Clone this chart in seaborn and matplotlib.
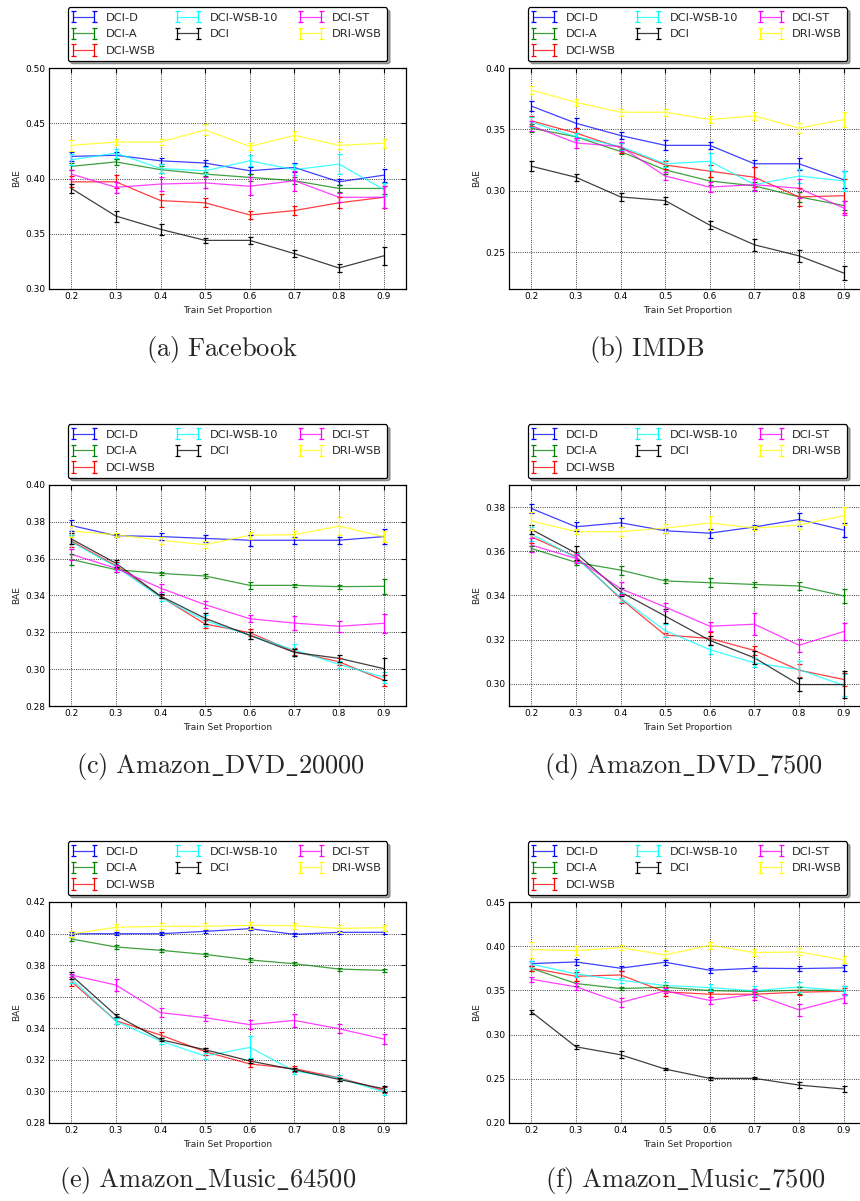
import numpy as np
import pandas as pd
import matplotlib
matplotlib.use('Agg')
import matplotlib.pyplot as plt
import seaborn as sns
from matplotlib.lines import Line2D
from matplotlib.container import ErrorbarContainer
from matplotlib.legend_handler import HandlerErrorbar
from matplotlib.ticker import FormatStrFormatter

props = [0.2, 0.3, 0.4, 0.5, 0.6, 0.7, 0.8, 0.9]
methods = ['DCI-D', 'DCI-A', 'DCI-WSB', 'DCI-WSB-10', 'DCI', 'DCI-ST', 'DRI-WSB']
colors = ['#0000ff', '#008000', '#ff0000', '#00ffff', '#000000', '#ff00ff', '#ffff00']

# rows follow the order of `methods`
facebook_bae = [
    [0.420, 0.421, 0.416, 0.414, 0.407, 0.410, 0.397, 0.403],
    [0.411, 0.415, 0.408, 0.404, 0.401, 0.398, 0.391, 0.391],
    [0.397, 0.397, 0.380, 0.378, 0.367, 0.371, 0.378, 0.383],
    [0.417, 0.423, 0.409, 0.407, 0.416, 0.408, 0.413, 0.390],
    [0.391, 0.366, 0.354, 0.344, 0.344, 0.332, 0.319, 0.330],
    [0.404, 0.392, 0.395, 0.396, 0.393, 0.398, 0.383, 0.383],
    [0.430, 0.433, 0.433, 0.444, 0.429, 0.439, 0.430, 0.432],
]
facebook_err = [
    [0.004, 0.003, 0.003, 0.003, 0.003, 0.004, 0.003, 0.006],
    [0.003, 0.003, 0.003, 0.002, 0.003, 0.003, 0.003, 0.005],
    [0.005, 0.006, 0.006, 0.004, 0.004, 0.004, 0.005, 0.010],
    [0.005, 0.004, 0.004, 0.003, 0.005, 0.005, 0.009, 0.006],
    [0.004, 0.005, 0.005, 0.002, 0.003, 0.003, 0.004, 0.008],
    [0.004, 0.005, 0.006, 0.005, 0.008, 0.009, 0.004, 0.010],
    [0.005, 0.003, 0.003, 0.005, 0.003, 0.004, 0.003, 0.004],
]

imdb_bae = [
    [0.369, 0.355, 0.345, 0.337, 0.337, 0.322, 0.322, 0.309],
    [0.351, 0.344, 0.332, 0.317, 0.308, 0.304, 0.295, 0.288],
    [0.357, 0.347, 0.335, 0.321, 0.316, 0.311, 0.295, 0.296],
    [0.356, 0.344, 0.336, 0.322, 0.324, 0.305, 0.312, 0.308],
    [0.320, 0.311, 0.295, 0.292, 0.272, 0.256, 0.247, 0.233],
    [0.353, 0.339, 0.336, 0.312, 0.303, 0.305, 0.302, 0.286],
    [0.382, 0.372, 0.364, 0.364, 0.358, 0.361, 0.351, 0.358],
]
imdb_err = [
    [0.004, 0.004, 0.003, 0.004, 0.003, 0.003, 0.005, 0.007],
    [0.003, 0.003, 0.002, 0.003, 0.003, 0.003, 0.004, 0.004],
    [0.004, 0.004, 0.004, 0.003, 0.005, 0.008, 0.007, 0.014],
    [0.004, 0.003, 0.003, 0.003, 0.007, 0.005, 0.006, 0.008],
    [0.004, 0.003, 0.003, 0.003, 0.003, 0.005, 0.005, 0.006],
    [0.004, 0.004, 0.004, 0.003, 0.004, 0.005, 0.008, 0.006],
    [0.003, 0.003, 0.003, 0.003, 0.003, 0.003, 0.004, 0.006],
]

dvd20000_bae = [
    [0.3780, 0.3725, 0.3720, 0.3710, 0.3700, 0.3700, 0.3700, 0.3720],
    [0.3596, 0.3540, 0.3520, 0.3506, 0.3455, 0.3455, 0.3448, 0.3450],
    [0.3696, 0.3562, 0.3394, 0.3245, 0.3198, 0.3095, 0.3040, 0.2940],
    [0.3690, 0.3557, 0.3390, 0.3263, 0.3184, 0.3104, 0.3026, 0.2956],
    [0.3707, 0.3575, 0.3397, 0.3276, 0.3184, 0.3091, 0.3059, 0.3003],
    [0.3624, 0.3548, 0.3440, 0.3350, 0.3274, 0.3250, 0.3233, 0.3249],
    [0.3750, 0.3730, 0.3700, 0.3676, 0.3727, 0.3730, 0.3777, 0.3720],
]
dvd20000_err = [
    [0.003, 0.001, 0.002, 0.002, 0.003, 0.002, 0.002, 0.004],
    [0.003, 0.001, 0.001, 0.001, 0.002, 0.001, 0.001, 0.004],
    [0.003, 0.002, 0.001, 0.002, 0.002, 0.002, 0.002, 0.003],
    [0.004, 0.002, 0.002, 0.003, 0.002, 0.003, 0.002, 0.003],
    [0.003, 0.002, 0.001, 0.003, 0.002, 0.002, 0.002, 0.006],
    [0.003, 0.002, 0.002, 0.002, 0.002, 0.004, 0.003, 0.005],
    [0.003, 0.001, 0.002, 0.002, 0.002, 0.002, 0.005, 0.003],
]

dvd7500_bae = [
    [0.3794, 0.3711, 0.3729, 0.3693, 0.3682, 0.3710, 0.3744, 0.3696],
    [0.3613, 0.3550, 0.3515, 0.3466, 0.3458, 0.3450, 0.3443, 0.3398],
    [0.3666, 0.3576, 0.3386, 0.3221, 0.3206, 0.3151, 0.3062, 0.3020],
    [0.3678, 0.3571, 0.3390, 0.3241, 0.3155, 0.3095, 0.3065, 0.2993],
    [0.3699, 0.3592, 0.3416, 0.3307, 0.3197, 0.3118, 0.2997, 0.2997],
    [0.3628, 0.3568, 0.3431, 0.3348, 0.3261, 0.3270, 0.3175, 0.3237],
    [0.3737, 0.3689, 0.3689, 0.3705, 0.3728, 0.3705, 0.3719, 0.3761],
]
dvd7500_err = [
    [0.002, 0.002, 0.002, 0.001, 0.002, 0.001, 0.003, 0.003],
    [0.001, 0.001, 0.002, 0.001, 0.002, 0.001, 0.002, 0.003],
    [0.003, 0.002, 0.002, 0.001, 0.003, 0.002, 0.003, 0.003],
    [0.003, 0.002, 0.002, 0.003, 0.002, 0.002, 0.004, 0.005],
    [0.002, 0.003, 0.002, 0.003, 0.002, 0.003, 0.003, 0.006],
    [0.003, 0.002, 0.003, 0.002, 0.002, 0.005, 0.003, 0.004],
    [0.004, 0.001, 0.002, 0.002, 0.003, 0.001, 0.002, 0.004],
]

music64500_bae = [
    [0.3999, 0.3999, 0.3999, 0.4014, 0.4031, 0.3995, 0.4008, 0.4008],
    [0.3966, 0.3915, 0.3894, 0.3868, 0.3833, 0.3809, 0.3775, 0.3767],
    [0.3697, 0.3448, 0.3357, 0.3252, 0.3174, 0.3144, 0.3087, 0.3007],
    [0.3714, 0.3444, 0.3319, 0.3224, 0.3279, 0.3129, 0.3085, 0.2996],
    [0.3735, 0.3482, 0.3328, 0.3264, 0.3193, 0.3138, 0.3076, 0.3017],
    [0.3737, 0.3674, 0.3499, 0.3467, 0.3423, 0.3450, 0.3397, 0.3332],
    [0.3997, 0.4040, 0.4046, 0.4046, 0.4052, 0.4050, 0.4033, 0.4037],
]
music64500_err = [
    [0.001, 0.001, 0.001, 0.001, 0.001, 0.001, 0.001, 0.001],
    [0.001, 0.001, 0.001, 0.001, 0.001, 0.001, 0.001, 0.001],
    [0.003, 0.002, 0.002, 0.002, 0.002, 0.002, 0.002, 0.002],
    [0.003, 0.002, 0.002, 0.002, 0.007, 0.002, 0.002, 0.002],
    [0.002, 0.001, 0.001, 0.001, 0.001, 0.001, 0.001, 0.002],
    [0.001, 0.004, 0.003, 0.002, 0.003, 0.004, 0.003, 0.003],
    [0.002, 0.002, 0.002, 0.002, 0.002, 0.002, 0.002, 0.002],
]

music7500_bae = [
    [0.3803, 0.3822, 0.3751, 0.3819, 0.3728, 0.3751, 0.3747, 0.3755],
    [0.3750, 0.3578, 0.3521, 0.3536, 0.3498, 0.3487, 0.3502, 0.3500],
    [0.3751, 0.3660, 0.3675, 0.3483, 0.3457, 0.3457, 0.3480, 0.3490],
    [0.3796, 0.3687, 0.3615, 0.3555, 0.3532, 0.3495, 0.3540, 0.3495],
    [0.3258, 0.2862, 0.2772, 0.2610, 0.2505, 0.2505, 0.2429, 0.2384],
    [0.3627, 0.3540, 0.3363, 0.3495, 0.3386, 0.3457, 0.3280, 0.3412],
    [0.3962, 0.3950, 0.3984, 0.3901, 0.4011, 0.3928, 0.3935, 0.3845],
]
music7500_err = [
    [0.003, 0.003, 0.003, 0.003, 0.003, 0.003, 0.003, 0.003],
    [0.003, 0.003, 0.002, 0.003, 0.002, 0.003, 0.004, 0.005],
    [0.003, 0.005, 0.004, 0.005, 0.003, 0.003, 0.003, 0.004],
    [0.004, 0.004, 0.003, 0.004, 0.004, 0.006, 0.006, 0.005],
    [0.002, 0.002, 0.004, 0.001, 0.002, 0.001, 0.003, 0.003],
    [0.003, 0.004, 0.005, 0.003, 0.004, 0.006, 0.007, 0.005],
    [0.009, 0.005, 0.003, 0.004, 0.004, 0.004, 0.004, 0.004],
]

captions = [r'(a)\ Facebook', r'(b)\ IMDB', r'(c)\ Amazon\_DVD\_20000',
            r'(d)\ Amazon\_DVD\_7500', r'(e)\ Amazon\_Music\_64500', r'(f)\ Amazon\_Music\_7500']

sns.set_theme(style='white')
plt.rcParams['font.family'] = ['DejaVu Sans']
plt.rcParams['mathtext.fontset'] = 'cm'

W, H = 860, 1201
fig = plt.figure(figsize=(W / 100, H / 100), dpi=100)

# panel layout in pixels: (left, top) of the axes box, and caption centre
panels = [
    (facebook_bae, facebook_err, (0.30, 0.50), np.arange(0.30, 0.501, 0.05), 49, 68, 222, 349),
    (imdb_bae, imdb_err, (0.22, 0.40), np.arange(0.25, 0.401, 0.05), 509, 68, 647, 349),
    (dvd20000_bae, dvd20000_err, (0.28, 0.40), np.arange(0.28, 0.401, 0.02), 49, 485, 221, 766),
    (dvd7500_bae, dvd7500_err, (0.29, 0.39), np.arange(0.30, 0.381, 0.02), 509, 485, 683, 766),
    (music64500_bae, music64500_err, (0.28, 0.42), np.arange(0.28, 0.421, 0.02), 49, 902, 208, 1181),
    (music7500_bae, music7500_err, (0.20, 0.45), np.arange(0.20, 0.451, 0.05), 509, 902, 685, 1181),
]
aw, ah = 357, 221

for (bae, err, ylim, yticks, left, top, cx, cy), cap in zip(panels, captions):
    ax = fig.add_axes([left / W, 1 - (top + ah) / H, aw / W, ah / H])

    long = pd.DataFrame({
        'prop': np.tile(props, len(methods)),
        'bae': np.concatenate(bae),
        'method': np.repeat(methods, len(props)),
    })
    sns.lineplot(data=long, x='prop', y='bae', hue='method', hue_order=methods,
                 palette=colors, estimator=None, lw=0.9, alpha=0.75, legend=False, ax=ax)

    handles = []
    for i, m in enumerate(methods):
        eb = ax.errorbar(props, bae[i], yerr=err[i], fmt='none', ecolor=colors[i],
                         elinewidth=0.9, capsize=1.8, capthick=0.9)
        proxy = Line2D([], [], color=colors[i], lw=0.9, alpha=0.75)
        handles.append(ErrorbarContainer((proxy, eb.lines[1], eb.lines[2]), has_yerr=True, label=m))

    ax.set_xlim(0.15, 0.95)
    ax.set_ylim(*ylim)
    ax.set_xticks(props)
    ax.set_yticks(yticks)
    ax.xaxis.set_major_formatter(FormatStrFormatter('%.1f'))
    ax.yaxis.set_major_formatter(FormatStrFormatter('%.2f'))
    ax.tick_params(direction='in', top=True, right=True, length=3.5, width=0.8,
                   labelsize=6.5, pad=2.5, colors='black')
    ax.grid(True, ls=':', color='black', lw=0.6)
    for s in ax.spines.values():
        s.set_color('black')
        s.set_linewidth(0.9)
    ax.set_xlabel('Train Set Proportion', fontsize=6.5, labelpad=3)
    ax.set_ylabel('BAE', fontsize=6.5, labelpad=3)

    leg = ax.legend(handles, methods, ncol=3, loc='lower center', bbox_to_anchor=(0.5, 1.032),
                    borderaxespad=0, fontsize=8.2, numpoints=2, handlelength=1.86,
                    handletextpad=1.0, labelspacing=0.58, columnspacing=1.9, borderpad=0.45,
                    fancybox=True, shadow=True, framealpha=1, edgecolor='black',
                    handler_map={ErrorbarContainer: HandlerErrorbar(marker_pad=0)})
    leg.get_frame().set_linewidth(0.9)

    fig.text(cx / W, 1 - cy / H, r'$\mathrm{' + cap + '}$', ha='center', va='center', fontsize=19)

fig.savefig('out.png', dpi=100, facecolor='white')
